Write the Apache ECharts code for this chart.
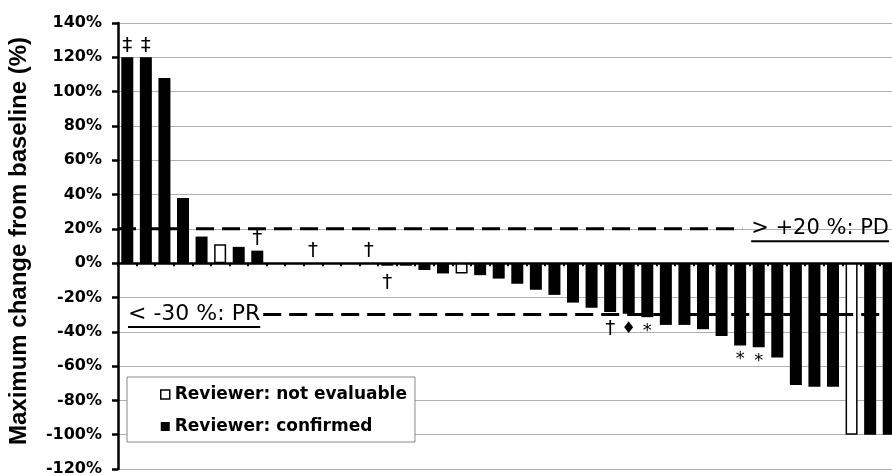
<!DOCTYPE html>
<html>
<head>
<meta charset="utf-8">
<script src="https://cdn.jsdelivr.net/npm/echarts@6/dist/echarts.min.js"></script>
<style>
html,body{margin:0;padding:0;background:#fff;}
#c{width:892px;height:476px;}
</style>
</head>
<body>
<div id="c"></div>
<script>
// ---- data ----
const patients = ['P1','P2','P3','P4','P5','P6','P7','P8','P9','P10','P11','P12','P13','P14','P15','P16','P17','P18','P19','P20','P21','P22','P23','P24','P25','P26','P27','P28','P29','P30','P31','P32','P33','P34','P35','P36','P37','P38','P39','P40','P41','P42'];
const changeValues = [120,120,108,38,15.5,11,9.5,7.3,0,0,0,0,0,0,-1.5,-1.5,-4,-6,-6,-7,-9,-12,-15.5,-18.5,-23,-26,-28.5,-29.5,-31.5,-36,-36,-38.5,-42.5,-48,-49,-55,-71,-72,-72,-100,-100,-100];
const reviewerStatus = ['C','C','C','C','C','N','C','C','C','C','C','C','C','C','C','C','C','C','N','C','C','C','C','C','C','C','C','C','C','C','C','C','C','C','C','C','C','C','C','N','C','C'];
const annotations = ['\u2021','\u2021','','','','','','\u2020','','','\u2020','','','\u2020','\u2020','','','','','','','','','','','','\u2020','\u2666','*','','','','','*','*','','','','','','',''];
const seriesNames = ['Reviewer: not evaluable','Reviewer: confirmed'];
const yTicks = {min:-120, max:140, step:20};
const thresholds = [20, -30];
const thresholdLabels = ['> +20 %: PD', '< -30 %: PR'];

// ---- build ----
function makeItem(i, status){
  if (reviewerStatus[i] !== status) return '-';
  const v = changeValues[i];
  const a = annotations[i];
  const item = {value: v};
  if (a) {
    const up = v >= 0;
    item.label = {
      show: true, formatter: a, position: up ? 'top' : 'bottom',
      distance: up ? 2 : (a === '*' ? 5 : 7),
      fontFamily: 'DejaVu Sans', fontSize: a === '*' ? 18 : (a === '\u2666' ? 16 : 20),
      color: '#000'
    };
  }
  return item;
}
const notEvalData = changeValues.map((v,i)=>makeItem(i,'N'));
const confirmedData = changeValues.map((v,i)=>makeItem(i,'C'));

const GRID_LEFT = 118, GRID_TOP = 23, GRID_W = 780, GRID_H = 446;

const option = {
  animation: false,
  backgroundColor: '#fff',
  grid: {left: GRID_LEFT, top: GRID_TOP, width: GRID_W, height: GRID_H, containLabel: false, outerBoundsMode: 'none'},
  legend: {
    orient: 'vertical', left: 127, top: 377,
    itemWidth: 9, itemHeight: 9, itemGap: 15,
    padding: [9, 8, 7, 33],
    backgroundColor: '#fff', borderColor: '#888', borderWidth: 1,
    textStyle: {fontFamily: 'DejaVu Sans', fontWeight: 'bold', fontSize: 17, color: '#000'},
    data: [
      {name: seriesNames[0], icon: 'rect', itemStyle: {color: '#fff', borderColor: '#000', borderWidth: 1.5}},
      {name: seriesNames[1], icon: 'rect', itemStyle: {color: '#000'}}
    ]
  },
  xAxis: {
    type: 'category', data: patients,
    axisLine: {onZero: true, lineStyle: {color: '#000', width: 2.5}},
    axisTick: {show: true, interval: 0, length: 3, lineStyle: {color: '#000', width: 2}},
    axisLabel: {show: false, interval: 0},
    splitLine: {show: false}
  },
  yAxis: {
    type: 'value', min: yTicks.min, max: yTicks.max, interval: yTicks.step,
    name: 'Maximum change from baseline (%)',
    nameLocation: 'middle', nameRotate: 90, nameGap: 87,
    nameTextStyle: {fontFamily: 'Liberation Sans', fontWeight: 'bold', fontSize: 24, color: '#000', padding: [0, 0, 0, 10]},
    axisLine: {show: true, lineStyle: {color: '#000', width: 2.5}},
    axisTick: {show: true, length: 6, lineStyle: {color: '#000', width: 2.5}},
    axisLabel: {formatter: '{value}%', margin: 16, fontFamily: 'DejaVu Sans', fontWeight: 'bold', fontSize: 16, color: '#000'},
    splitLine: {show: true, lineStyle: {color: '#b0b0b0', width: 1}}
  },
  series: [
    {name: seriesNames[0], type: 'bar', barWidth: 12, barGap: '-100%', data: notEvalData,
     itemStyle: {color: '#fff', borderColor: '#000', borderWidth: 1.5}},
    {name: seriesNames[1], type: 'bar', barWidth: 12, barGap: '-100%', data: confirmedData,
     itemStyle: {color: '#000'}}
  ]
};

const chart = echarts.init(document.getElementById('c'), null, {renderer: 'canvas'});
chart.setOption(option);

// threshold lines + labels, positioned through the value axis
(function(){
  const FONTS = ['21px "DejaVu Sans"', '22px "DejaVu Sans"'];
  const ctx = document.createElement('canvas').getContext('2d');
  const gridRight = GRID_LEFT + GRID_W;
  const els = [];
  thresholds.forEach((t, k) => {
    const font = FONTS[k];
    ctx.font = font;
    const y = chart.convertToPixel({yAxisIndex: 0}, t);
    const text = thresholdLabels[k];
    const w = ctx.measureText(text).width;
    let tx0, tx1, lx0, lx1;
    if (t > 0) { tx1 = 889; tx0 = tx1 - w; lx0 = GRID_LEFT; lx1 = tx0 - 9; }
    else { tx0 = 128; tx1 = tx0 + w; lx0 = tx1 + 3; lx1 = gridRight; }
    els.push({type: 'line', z: 100, silent: true, shape: {x1: lx0, y1: y, x2: lx1, y2: y},
              style: {stroke: '#000', lineWidth: 3, lineDash: [18, 8]}});
    els.push({type: 'text', z: 100, silent: true,
              style: {text: text, x: tx0, y: y, align: 'left', verticalAlign: 'middle', font: font, fill: '#000'}});
    els.push({type: 'line', z: 100, silent: true, shape: {x1: tx0, y1: y + 12.5, x2: tx1, y2: y + 12.5},
              style: {stroke: '#000', lineWidth: 2}});
  });
  chart.setOption({graphic: els});
})();
</script>
</body>
</html>
